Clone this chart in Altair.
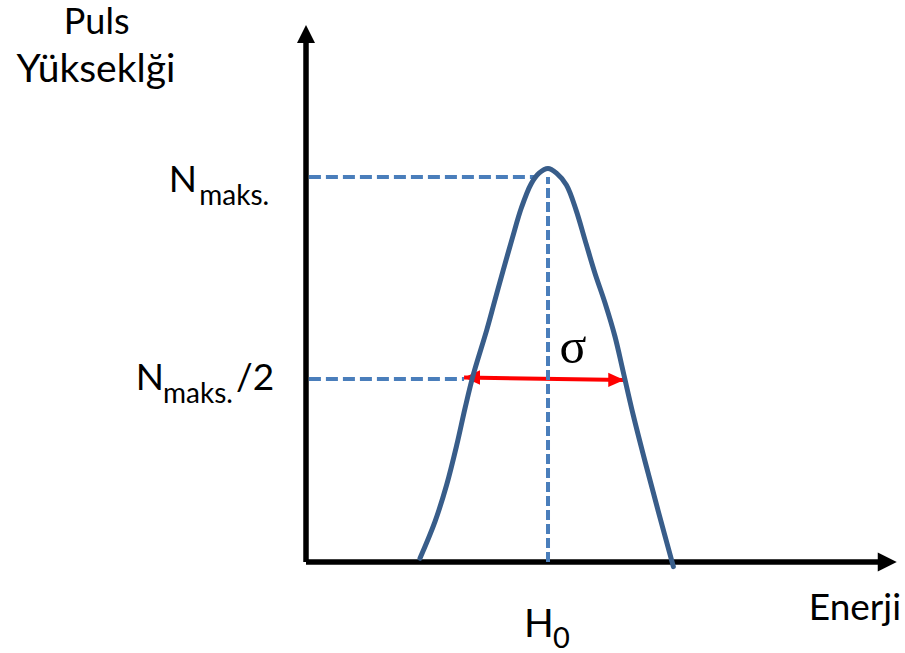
import altair as alt
import pandas as pd

# Detector response: pulse height versus energy (arbitrary units, H0 = 100, Nmaks = 100)
energy = [47.1, 53.3, 58.1, 62.3, 65.7, 69.1, 74.7, 78.1, 81.5, 85.2, 89.0, 93.0,
          96.3, 100.0, 103.5, 107.6, 111.6, 115.3, 119.4, 123.6, 127.7, 131.0,
          135.2, 140.1, 145.6, 151.8]
pulse = [0.96, 10.5, 20.0, 30.4, 39.9, 48.6, 60.3, 68.1, 75.8, 84.0, 92.0, 98.2,
         101.0, 102.2, 101.0, 97.9, 91.4, 83.6, 75.0, 67.2, 58.5, 49.6,
         38.2, 26.1, 13.1, -1.2]

h0 = 100.0            # peak position on the energy axis
n_max = 100.0         # peak height
n_half = 47.5         # level of the width marker
half_left = 65.3      # where the width marker meets the curve
half_right = 131.5

# Scales: the whole canvas is the plot area, everything is drawn as marks
X_DOMAIN = [-126.45, 247.52]
Y_DOMAIN = [-23.64, 145.97]
xs = alt.Scale(domain=X_DOMAIN, nice=False, zero=False)
ys = alt.Scale(domain=Y_DOMAIN, nice=False, zero=False)
X = lambda f: alt.X(f, type="quantitative", scale=xs, axis=None)
Y = lambda f: alt.Y(f, type="quantitative", scale=ys, axis=None)

BLUE_DASH = "#4A7EBB"
BLUE_CURVE = "#385D8A"
FONT = "Lato"

curve_df = pd.DataFrame({"E": energy, "N": pulse})

# Axes with arrowheads
axis_top = 134.8
axis_tip_y = 139.5
axis_right = 236.4
axis_tip_x = 244.1
axes_df = pd.DataFrame({"x": [0, 0], "y": [0, 0], "x2": [0, axis_right], "y2": [axis_top, 0]})
axes = alt.Chart(axes_df).mark_rule(color="black", strokeWidth=5.5, strokeCap="butt").encode(
    x=X("x"), y=Y("y"), x2="x2", y2="y2")
head_up = alt.Chart(pd.DataFrame({"x": [0], "y": [axis_tip_y]})).mark_point(
    shape="M0,0L-1,2L1,2Z", size=324, filled=True, color="black", opacity=1, strokeWidth=0
).encode(x=X("x"), y=Y("y"))
head_right = alt.Chart(pd.DataFrame({"x": [axis_tip_x], "y": [0]})).mark_point(
    shape="M0,0L-2,-1L-2,1Z", size=361, filled=True, color="black", opacity=1, strokeWidth=0
).encode(x=X("x"), y=Y("y"))

# Width marker (red double arrow)
width_df = pd.DataFrame({"x": [half_left], "y": [47.9], "x2": [half_right], "y2": [47.3]})
width_line = alt.Chart(width_df).mark_rule(color="#FF0000", strokeWidth=4).encode(
    x=X("x"), y=Y("y"), x2="x2", y2="y2")
wl = alt.Chart(pd.DataFrame({"x": [half_left], "y": [47.9]})).mark_point(
    shape="M0,0L2,-0.9L2,0.9Z", size=256, filled=True, color="#FF0000", opacity=1, strokeWidth=0
).encode(x=X("x"), y=Y("y"))
wr = alt.Chart(pd.DataFrame({"x": [half_right], "y": [47.3]})).mark_point(
    shape="M0,0L-2,-0.9L-2,0.9Z", size=256, filled=True, color="#FF0000", opacity=1, strokeWidth=0
).encode(x=X("x"), y=Y("y"))

# Dashed guides
hguides_df = pd.DataFrame({"x": [1.2, 1.2], "x2": [95.5, half_left], "y": [n_max, n_half]})
hguides = alt.Chart(hguides_df).mark_rule(
    color=BLUE_DASH, strokeWidth=4, strokeDash=[12, 5], strokeCap="butt"
).encode(x=X("x"), x2="x2", y=Y("y"))
vguide_df = pd.DataFrame({"x": [h0], "y": [0], "y2": [n_max]})
vguide = alt.Chart(vguide_df).mark_rule(
    color=BLUE_DASH, strokeWidth=4, strokeDash=[10, 4], strokeCap="butt"
).encode(x=X("x"), y=Y("y"), y2="y2")

# Peak curve
curve = alt.Chart(curve_df).mark_line(
    color=BLUE_CURVE, strokeWidth=5, interpolate="catmull-rom", strokeCap="round", strokeJoin="round"
).encode(x=X("E"), y=Y("N"))


def label(text, x, y, size, align="left", font=FONT):
    return alt.Chart(pd.DataFrame({"x": [x], "y": [y], "t": [text]})).mark_text(
        font=font, fontSize=size, align=align, baseline="alphabetic", color="black"
    ).encode(x=X("x"), y=Y("y"), text="t:N")


texts = [
    label("Puls", -86.5, 137.2, 36, "center"),
    label("Yükseklği", -86.8, 124.7, 39, "center"),
    label("N", -45.0, 96.2, 37, "right"),
    label("maks.", -44.1, 92.7, 28, "left"),
    label("N", -58.7, 44.7, 37, "right"),
    label("maks.", -59.1, 41.2, 28, "left"),
    label("/2", -28.9, 44.7, 37, "left"),
    label("H", 90.1, -19.5, 39, "left"),
    label("0", 102.1, -22.4, 29, "left"),
    label("Enerji", 245.9, -15.1, 37, "right"),
    label("σ", 110.3, 51.7, 50, "center", "Liberation Serif"),
]

chart = alt.layer(
    axes, head_up, head_right, width_line, wl, wr, hguides, vguide, curve, *texts
).properties(
    width=905, height=653, padding=0, autosize=alt.AutoSizeParams(type="none"),
    background="white"
).configure_view(stroke=None)

chart.save("out.html", embed_options={"renderer": "svg", "actions": False})
